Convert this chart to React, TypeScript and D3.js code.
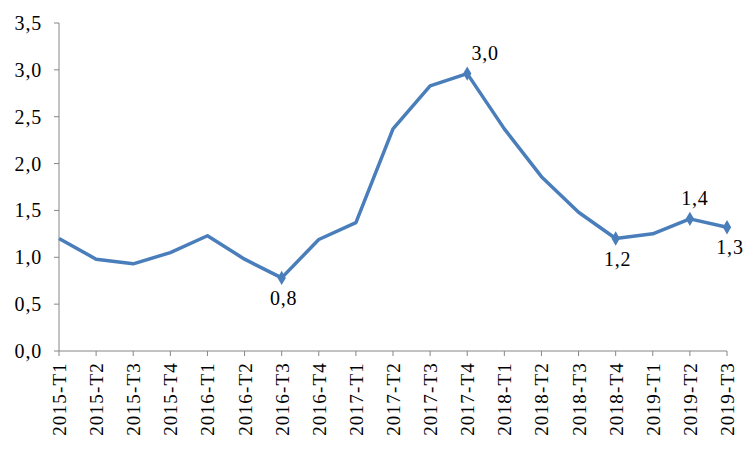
import React from "react";
import * as d3 from "d3";

const categories = ["2015-T1","2015-T2","2015-T3","2015-T4","2016-T1","2016-T2","2016-T3","2016-T4","2017-T1","2017-T2","2017-T3","2017-T4","2018-T1","2018-T2","2018-T3","2018-T4","2019-T1","2019-T2","2019-T3"];
const values = [1.2, 0.98, 0.93, 1.05, 1.23, 0.98, 0.78, 1.19, 1.37, 2.37, 2.83, 2.96, 2.37, 1.86, 1.48, 1.2, 1.25, 1.41, 1.32];
const yTicks = [0, 0.5, 1, 1.5, 2, 2.5, 3, 3.5];
const labeled = [
  { i: 6, text: "0,8", pos: "below", dx: 2 },
  { i: 11, text: "3,0", pos: "above", dx: 18 },
  { i: 15, text: "1,2", pos: "below", dx: 2 },
  { i: 17, text: "1,4", pos: "above", dx: 5 },
  { i: 18, text: "1,3", pos: "below", dx: 3 },
];

export default function App() {
  const W = 750, H = 450;
  const x = d3.scalePoint<string>().domain(categories).range([59, 727]);
  const y = d3.scaleLinear().domain([0, 3.5]).range([351, 23]);
  const line = d3.line<number>().x((_, i) => x(categories[i])!).y(d => y(d));
  const fmt = (v: number) => v.toFixed(1).replace(".", ",");
  const font = "'Liberation Serif', 'DejaVu Serif', serif";
  const axisColor = "#868686";
  const blue = "#4a7ebb";
  const diamond = d3.symbol().type(d3.symbolDiamond).size(60)()!;
  return (
    <svg width={W} height={H} style={{ position: "absolute", left: 0, top: 0, background: "#fff" }} fontFamily={font}>
      <line x1={59} x2={59} y1={23} y2={351} stroke={axisColor} strokeWidth={1} />
      <line x1={59} x2={727} y1={351} y2={351} stroke={axisColor} strokeWidth={1} />
      {yTicks.map(t => (
        <g key={t}>
          <line x1={54} x2={59} y1={y(t)} y2={y(t)} stroke={axisColor} />
          <text x={42} y={y(t)} dy="0.35em" textAnchor="end" fontSize={20} letterSpacing={0.8} fill="#000">{fmt(t)}</text>
        </g>
      ))}
      {categories.map(c => (
        <g key={c}>
          <line x1={x(c)} x2={x(c)} y1={351} y2={356} stroke={axisColor} />
          <text transform={`translate(${x(c)! + 7},${362}) rotate(-90)`} textAnchor="end" fontSize={19} letterSpacing={1.2} fill="#000">{c}</text>
        </g>
      ))}
      <path d={line(values)!} fill="none" stroke={blue} strokeWidth={3.5} strokeLinejoin="round" />
      {labeled.map(l => (
        <g key={l.i}>
          <path d={diamond} transform={`translate(${x(categories[l.i])},${y(values[l.i])})`} fill={blue} />
          <text x={x(categories[l.i])! + l.dx} y={y(values[l.i]) + (l.pos === "below" ? 27 : -14)} textAnchor="middle" fontSize={20} letterSpacing={0.8} fill="#000">{l.text}</text>
        </g>
      ))}
    </svg>
  );
}
